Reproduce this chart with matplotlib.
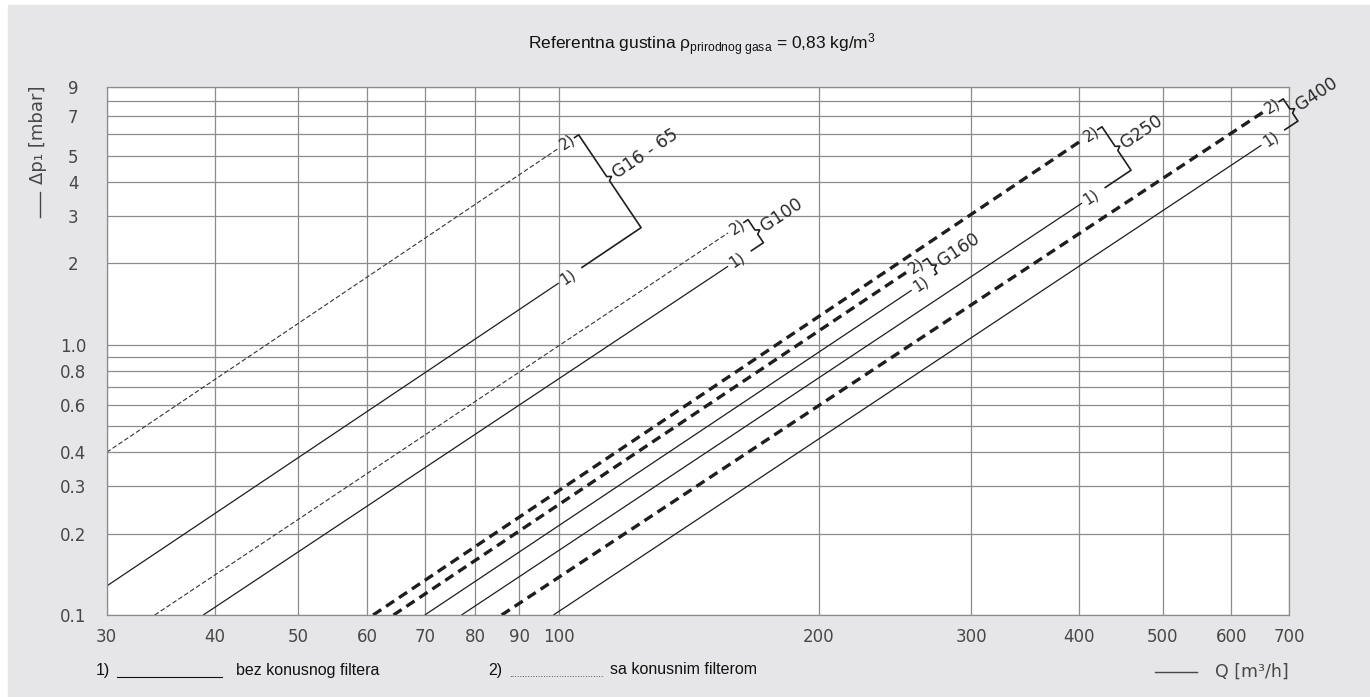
#!/usr/bin/env python3
"""Pressure loss chart (Δp vs Q) for gas meters G16-65 ... G400, log-log."""

import matplotlib
matplotlib.use("Agg")
import matplotlib.pyplot as plt
import numpy as np
from matplotlib.lines import Line2D
from matplotlib.patches import Rectangle
from matplotlib.transforms import IdentityTransform

# ── Data ─────────────────────────────────────────────────────
# each curve is a straight line on log-log paper: start point -> end point
q_start = [30, 30, 34.1, 38.8, 64.4, 70.0, 61.0, 77.2, 85.9, 98.6]
p_start = [0.40, 0.128, 0.1, 0.1, 0.1, 0.1, 0.1, 0.1, 0.1, 0.1]
q_end = [100, 100, 157, 157, 253, 256, 403, 403, 653, 650]
p_end = [5.33, 1.69, 2.59, 1.95, 1.86, 1.59, 5.71, 3.34, 7.25, 5.47]
curve_marks = ["2)", "1)", "2)", "1)", "2)", "1)", "2)", "1)", "2)", "1)"]

groups = ["G16 - 65", "G100", "G160", "G250", "G400"]

x_ticks = [30, 40, 50, 60, 70, 80, 90, 100, 200, 300, 400, 500, 600, 700]
y_grid = [0.1, 0.2, 0.3, 0.4, 0.5, 0.6, 0.7, 0.8, 0.9,
          1, 2, 3, 4, 5, 6, 7, 8, 9]
y_tick_labels = ["0.1", "0.2", "0.3", "0.4", "", "0.6", "", "0.8", "",
                 "1.0", "2", "3", "4", "5", "", "7", "", "9"]

W, H = 1370, 697
INK = "#1e1e1e"
GRID = "#8c8c8c"
BG = "#e6e6e8"
TXT = "#474747"


def fx(px):
    return px / W


def fy(py):
    return 1 - py / H


def main():
    plt.rcParams["font.family"] = ["DejaVu Sans"]
    plt.rcParams["lines.scale_dashes"] = False
    plt.rcParams["mathtext.fontset"] = "custom"
    plt.rcParams["mathtext.rm"] = "Liberation Sans"
    plt.rcParams["mathtext.it"] = "Liberation Sans:italic"
    plt.rcParams["mathtext.bf"] = "Liberation Sans:bold"

    fig = plt.figure(figsize=(W / 100, H / 100), dpi=100, facecolor="white")
    fig.patches.append(Rectangle((fx(8), 0), 1, fy(5), transform=fig.transFigure,
                                 color=BG, zorder=-10))

    ax = fig.add_axes([fx(106.7), fy(615), fx(1289.3 - 106.7), (615 - 86.7) / H])
    ax.set_facecolor("white")
    ax.set_xscale("log")
    ax.set_yscale("log")
    ax.set_xlim(30, 700)
    ax.set_ylim(0.1, 9)

    # ── Axes, grid, ticks ────────────────────────────────────
    ax.set_xticks(x_ticks)
    ax.set_xticklabels([str(v) for v in x_ticks])
    ax.set_yticks(y_grid)
    ax.set_yticklabels(y_tick_labels)
    ax.minorticks_off()
    ax.grid(True, which="major", color=GRID, lw=0.9)
    ax.set_axisbelow(True)
    for sp in ax.spines.values():
        sp.set_color(GRID)
        sp.set_linewidth(0.9)
    ax.tick_params(axis="both", length=0, labelsize=12, labelcolor=TXT)
    ax.tick_params(axis="x", pad=9)
    ax.tick_params(axis="y", pad=24)
    for lbl in ax.get_yticklabels():
        lbl.set_ha("center")

    # ── Curves ───────────────────────────────────────────────
    styles = {
        "solid": dict(color=INK, lw=0.9, ls="-"),
        "thin_dash": dict(color="#333333", lw=0.8, ls=(0, (3.4, 1.7))),
        "thick_dash": dict(color=INK, lw=2.4, ls=(0, (7.0, 4.2))),
    }
    for i in range(len(q_start)):
        if curve_marks[i] == "1)":
            st = styles["solid"]
        elif i < 4:
            st = styles["thin_dash"]
        else:
            st = styles["thick_dash"]
        ax.plot([q_start[i], q_end[i]], [p_start[i], p_end[i]],
                solid_capstyle="butt", dash_capstyle="butt", **st)

    # ── Curve marks and group braces (built in pixel space) ──
    ident = IdentityTransform()
    label_kw = dict(color="#2a2a2a", transform=ident, rotation_mode="anchor")

    def disp(q, p):
        return ax.transData.transform((q, p))

    ends = []
    for i in range(len(q_start)):
        s = disp(q_start[i], p_start[i])
        e = disp(q_end[i], p_end[i])
        a = (e - s) / np.hypot(*(e - s))
        ang = np.degrees(np.arctan2(a[1], a[0]))
        c = e + a * 11
        ax.text(c[0], c[1], curve_marks[i], fontsize=11, ha="center", va="center",
                rotation=ang, **label_kw)
        ends.append((e, a, ang))

    for gi, name in enumerate(groups):
        e2, a, ang = ends[2 * gi]
        e1, _, _ = ends[2 * gi + 1]
        n = np.array([a[1], -a[0]])
        top = e2 + a * 24
        bot = e1 + a * 28
        L = np.dot(bot - top, n)
        corner = top + n * L
        cusp = top + n * (0.45 * L)
        pts = np.array([top - a * 5, top, cusp, cusp + a * 4 + n * 2.5,
                        cusp + n * 5, corner, bot])
        fig.add_artist(Line2D(pts[:, 0], pts[:, 1], color=INK, lw=1.2,
                              transform=ident))
        tp = cusp + a * 7 + n * 2.5
        ax.text(tp[0], tp[1], name, fontsize=12.5, ha="left", va="center",
                rotation=ang, **label_kw)

    # ── Axis titles ──────────────────────────────────────────
    fig.add_artist(Line2D([fx(40), fx(40)], [fy(192), fy(217)], color=TXT,
                          lw=1.0, transform=fig.transFigure))
    fig.text(fx(38), fy(135), "Δp₁ [mbar]", rotation=90, fontsize=13,
             ha="center", va="center", color=TXT)
    fig.add_artist(Line2D([fx(1155), fx(1197)], [fy(672), fy(672)], color=TXT,
                          lw=1.0, transform=fig.transFigure))
    fig.text(fx(1215), fy(672), "Q [m³/h]", fontsize=12.5, ha="left", va="center",
             color=TXT)

    fig.text(fx(702), fy(45),
             r"Referentna gustina $\mathrm{\rho_{prirodnog\ gasa}}$ = 0,83 kg/m$^{3}$",
             family="Liberation Sans", fontsize=12.5, ha="center", va="center",
             color="#111111")

    # ── Legend row ───────────────────────────────────────────
    leg_kw = dict(family="Liberation Sans", fontsize=11.5, va="center", color="#111111")
    fig.text(fx(96), fy(670), "1)", ha="left", **leg_kw)
    fig.add_artist(Line2D([fx(117), fx(222)], [fy(677), fy(677)], color="#111111",
                          lw=0.8, transform=fig.transFigure))
    fig.text(fx(236), fy(670), "bez konusnog filtera", ha="left", **leg_kw)
    fig.text(fx(488), fy(670), "2)", ha="left", **leg_kw)
    fig.text(fx(509), fy(674), "." * 36, ha="left", family="Liberation Sans",
             fontsize=7, va="center", color="#222222")
    fig.text(fx(610), fy(670), "sa konusnim filterom", ha="left", **leg_kw)

    fig.savefig("out.png", dpi=100, facecolor="white")
    plt.close(fig)


if __name__ == "__main__":
    main()
